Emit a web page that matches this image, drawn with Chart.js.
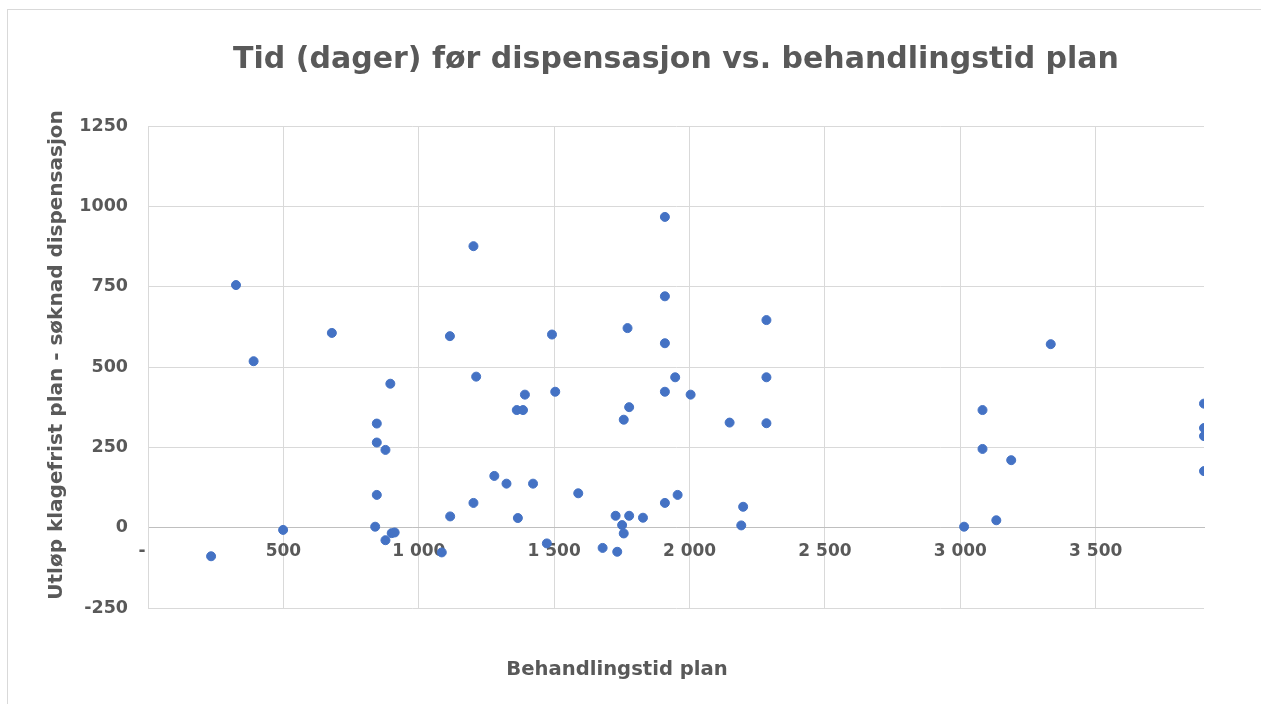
<!DOCTYPE html>
<html>
<head>
<meta charset="utf-8">
<title>Tid (dager) før dispensasjon vs. behandlingstid plan</title>
<script src="https://cdn.jsdelivr.net/npm/chart.js@4.4.1/dist/chart.umd.min.js"></script>
<style>
    html, body { margin: 0; padding: 0; background: #fff; overflow: hidden; }
    #frame { position: absolute; left: 7px; top: 9px; width: 1300px; height: 760px; border: 1px solid #d9d9d9; }
    #wrap { position: absolute; left: 0; top: 0; width: 1261px; height: 704px; }
</style>
</head>
<body>
<div id="frame"></div>
<div id="wrap"><canvas id="scatterChart"></canvas></div>
<script>
// Behandlingstid plan (x) and utløp klagefrist - søknad dispensasjon (y)
const behandlingstid = [
    233, 325, 390, 499, 679, 839, 845, 845, 845, 877,
    877, 895, 900, 911, 1085, 1115, 1116, 1202, 1212, 1202,
    1279, 1324, 1362, 1366, 1385, 1392, 1422, 1473, 1492, 1504,
    1589, 1679, 1727, 1733, 1751, 1757, 1757, 1771, 1777, 1777,
    1828, 1909, 1909, 1909, 1909, 1909, 1947, 1956, 2004, 2148,
    2191, 2198, 2284, 2284, 2284, 3014, 3082, 3082, 3133, 3188,
    3334, 3900, 3900, 3900, 3900
];
const dagerFoerDispensasjon = [
    -89, 755, 518, -7, 606, 3, 324, 265, 102, 242,
    -39, 448, -17, -15, -77, 596, 35, 876, 470, 77,
    161, 137, 366, 30, 366, 414, 137, -49, 601, 423,
    107, -63, 37, -75, 8, -18, 336, 621, 375, 37,
    31, 967, 720, 574, 423, 77, 468, 102, 414, 327,
    7, 65, 646, 468, 325, 3, 366, 245, 23, 210,
    571, 386, 310, 285, 176
];

const xTickValues = [0, 500, 1000, 1500, 2000, 2500, 3000, 3500];
const yTickValues = [-250, 0, 250, 500, 750, 1000, 1250];

const chartTitle = 'Tid (dager) før dispensasjon vs. behandlingstid plan';
const xTitle = 'Behandlingstid plan';
const yTitle = 'Utløp klagefrist plan - søknad dispensasjon';

const textColor = '#595959';
const gridColor = '#d9d9d9';
const fontFamily = '"DejaVu Sans", Verdana, sans-serif';

// "1 000" style, zero shown as "-"
function formatX(value) {
    if (value === 0) return '-  ';
    return String(value).replace(/\B(?=(\d{3})+(?!\d))/g, ' ');
}

// axis titles placed where the original has them
const axisTitles = {
    id: 'axisTitles',
    afterDraw(chart) {
        const ctx = chart.ctx;
        ctx.save();
        ctx.fillStyle = textColor;
        ctx.textAlign = 'center';
        ctx.textBaseline = 'middle';
        ctx.font = 'bold 19.6px ' + fontFamily;
        ctx.fillText(xTitle, 617, 670);
        ctx.font = 'bold 20px ' + fontFamily;
        ctx.translate(57, 355);
        ctx.rotate(-Math.PI / 2);
        ctx.fillText(yTitle, 0, 0);
        ctx.restore();
    }
};

document.addEventListener('DOMContentLoaded', function() {
    const points = behandlingstid.map((x, i) => ({ x: x, y: dagerFoerDispensasjon[i] }));
    const ctx = document.getElementById('scatterChart').getContext('2d');
    new Chart(ctx, {
        type: 'scatter',
        data: {
            datasets: [{
                data: points,
                backgroundColor: '#4472C4',
                borderColor: '#4472C4',
                borderWidth: 1,
                pointRadius: 4.5,
                pointHoverRadius: 4.5
            }]
        },
        options: {
            responsive: true,
            maintainAspectRatio: false,
            animation: false,
            // the x axis sits on y = 0 and takes no layout room, so the bottom is padded here
            layout: { padding: { left: 0, right: 57, top: 0, bottom: 96 } },
            plugins: {
                legend: { display: false },
                tooltip: { enabled: false },
                title: {
                    display: true,
                    fullSize: false,
                    text: chartTitle,
                    color: textColor,
                    font: { family: fontFamily, size: 30, weight: 'bold' },
                    padding: { top: 42, bottom: 48 }
                }
            },
            scales: {
                x: {
                    type: 'linear',
                    min: 0,
                    max: 3900,
                    position: { y: 0 },
                    afterBuildTicks(scale) { scale.ticks = xTickValues.map(v => ({ value: v })); },
                    grid: { color: gridColor, drawTicks: false },
                    border: { color: '#bfbfbf', width: 1 },
                    ticks: {
                        color: textColor,
                        padding: 14,
                        maxRotation: 0,
                        font: { family: fontFamily, size: 17, weight: 'bold' },
                        callback: formatX
                    }
                },
                y: {
                    type: 'linear',
                    min: -250,
                    max: 1250,
                    afterFit(scale) { scale.width = 148; },
                    afterBuildTicks(scale) { scale.ticks = yTickValues.map(v => ({ value: v })); },
                    grid: { color: gridColor, drawTicks: false },
                    border: { color: gridColor, width: 1 },
                    ticks: {
                        color: textColor,
                        padding: 20,
                        font: { family: fontFamily, size: 17.5, weight: 'bold' },
                        callback: v => String(v)
                    }
                }
            }
        },
        plugins: [axisTitles]
    });
});
</script>
</body>
</html>
